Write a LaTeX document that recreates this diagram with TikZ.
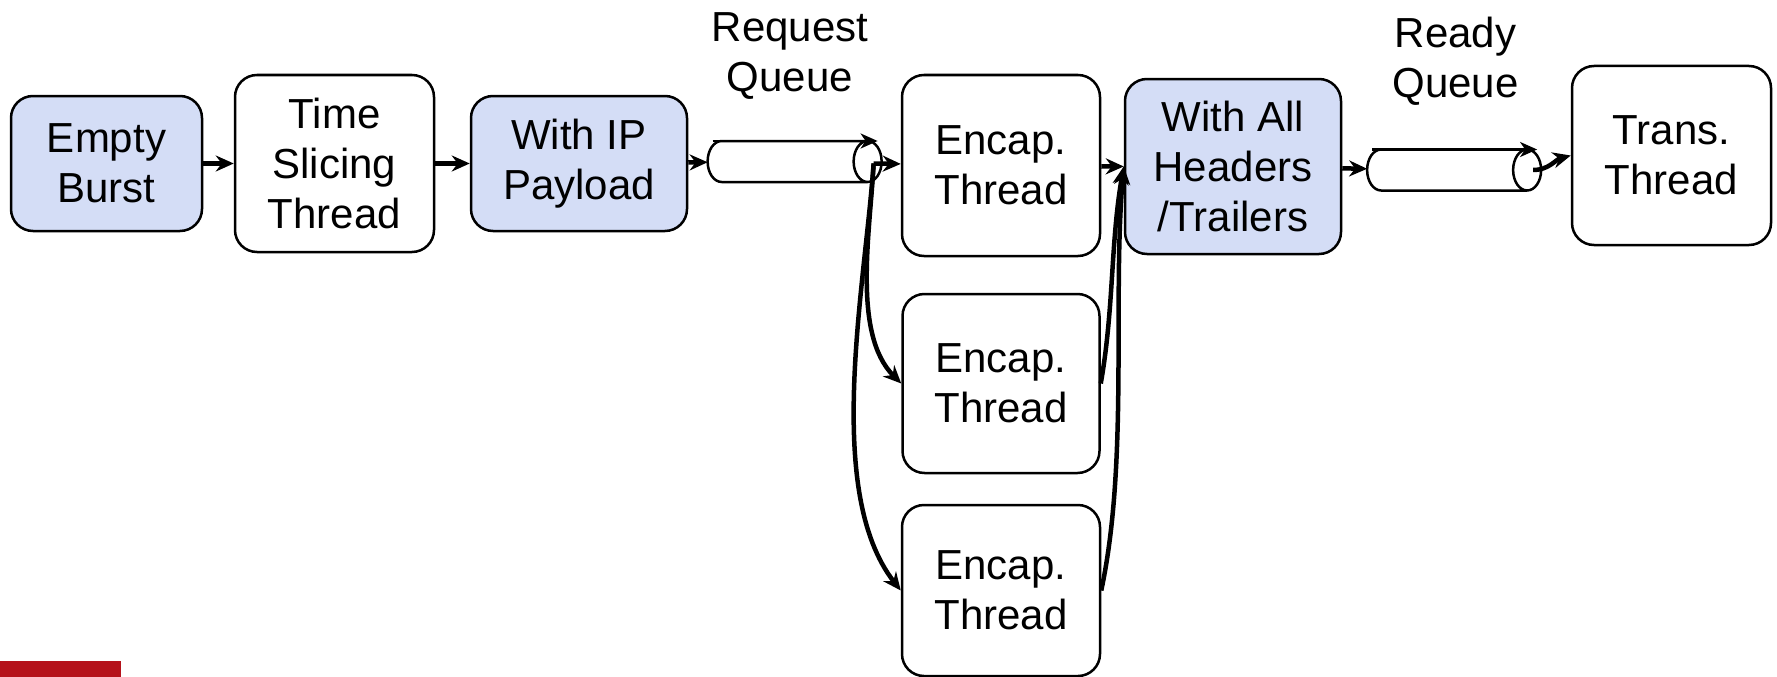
\documentclass[tikz,border=0pt]{standalone}
\usepackage{fontspec}
\setmainfont{Liberation Sans}
\usetikzlibrary{positioning, shapes.geometric, arrows.meta}
\definecolor{burstblue}{RGB}{212,221,246}
\definecolor{barred}{RGB}{181,18,27}

\begin{document}
\begin{tikzpicture}[x=1pt,y=1pt,on grid,font=\fontsize{42}{50}\selectfont,
    thread/.style={draw,line width=2.5pt,rounded corners=22pt,align=center,inner sep=0pt},
    data/.style={thread,fill=burstblue},
    queue/.style={draw,line width=2.5pt,cylinder,shape aspect=0.7,minimum width=41pt,minimum height=174pt,inner xsep=0pt,inner ysep=20pt,outer sep=0pt},
    flow/.style={line width=4.5pt,-{Stealth[length=18pt,width=16pt,inset=6pt]}},
    qflow/.style={line width=2.5pt,-{Stealth[length=17pt,width=15pt,inset=5pt]}}]
    \useasboundingbox (0,0) rectangle (1777,-677);
    \node[data,minimum width=191pt,minimum height=135pt] (burst) at (106.5,-163.5) {Empty\\Burst};
    \node[thread,minimum width=199pt,minimum height=177pt] (slicing) [right=228pt of burst] {Time\\Slicing\\Thread};
    \node[data,minimum width=216pt,minimum height=135pt] (payload) [right=244.5pt of slicing] {With IP\\Payload};
    \node[queue] (reqq) [right=201pt of payload,yshift=2pt] {};
    \node[thread,minimum width=198pt,minimum height=181pt] (encap1) [right=221pt of reqq,yshift=-4pt] {Encap.\\Thread};
    \node[thread,minimum width=197pt,minimum height=179pt] (encap2) [below=218pt of encap1] {Encap.\\Thread};
    \node[thread,minimum width=198pt,minimum height=171pt] (encap3) [below=207pt of encap2] {Encap.\\Thread};
    \node[data,minimum width=216pt,minimum height=175pt] (headers) [right=232pt of encap1,yshift=-1pt] {With All\\Headers\\/Trailers};
    \node[queue] (readyq) [right=206.5pt of headers,yshift=-3.5pt] {};
    \node[thread,minimum width=199pt,minimum height=179pt] (trans) [right=232pt of readyq,yshift=14.5pt] {Trans.\\Thread};
    \node[align=center] (reqlabel) [above=105.5pt of reqq,xshift=10pt] {Request\\Queue};
    \node[align=center] (readylabel) [above=109pt of readyq,xshift=16pt] {Ready\\Queue};

    % direction marks on the queues
    \draw[qflow] ([xshift=5pt]reqq.west |- reqq.north) -- ([xshift=-4pt]reqq.east |- reqq.north);
    \draw[qflow] ([xshift=5pt]readyq.west |- readyq.north) -- ([xshift=-4pt]readyq.east |- readyq.north);
    \coordinate (reqout) at ([xshift=-8pt,yshift=-2pt]reqq.east);
    \coordinate (readyout) at ([xshift=-8pt]readyq.east);

    \path[flow]
    (burst) edge (slicing)
    (slicing) edge (payload)
    (payload) edge (reqq)
    (reqout) edge (encap1)
      edge [out=-93,in=135,looseness=0.8] (encap2.west)
      edge [out=-94,in=128,looseness=0.75] (encap3.west)
    (encap1) edge (headers.west)
    (encap2.east) edge [out=80,in=-100,looseness=0.9] (headers.west)
    (encap3.east) edge [out=78,in=-95,looseness=0.8] (headers.west)
    (headers) edge (readyq)
    (readyout) edge [out=0,in=195] (trans.west);

    \fill[barred] (0,-661) rectangle (121,-677);
\end{tikzpicture}
\end{document}
